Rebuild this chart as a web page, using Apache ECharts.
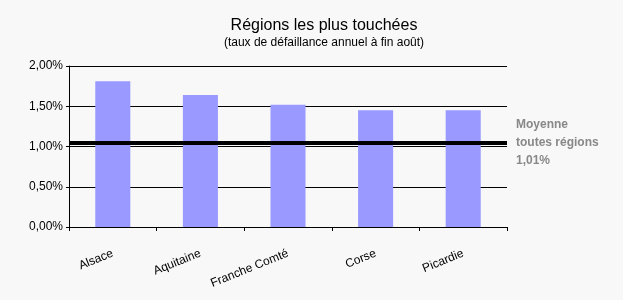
<!DOCTYPE html>
<html>
<head>
<meta charset="utf-8">
<script src="https://cdn.jsdelivr.net/npm/echarts@6/dist/echarts.min.js"></script>
<style>
html,body{margin:0;padding:0;background:#f8f8f8;}
#c{width:623px;height:300px;}
</style>
</head>
<body>
<div id="c"></div>
<script>
const categories = ['Alsace', 'Aquitaine', 'Franche Comté', 'Corse', 'Picardie'];
const rates = [1.81, 1.64, 1.52, 1.45, 1.45];
const meanLineValue = 1.05;
const meanLabelLines = ['Moyenne', 'toutes régions', '1,01%'];
const yTicks = [0, 0.5, 1, 1.5, 2];
const titleText = 'Régions les plus touchées';
const subtitleText = '(taux de défaillance annuel à fin août)';

const fmt = v => v.toFixed(2).replace('.', ',') + '%';
const chart = echarts.init(document.getElementById('c'), null, {renderer: 'canvas'});
chart.setOption({
  backgroundColor: '#f8f8f8',
  animation: false,
  title: {
    text: titleText,
    subtext: subtitleText,
    left: 319,
    textAlign: 'center',
    top: 13,
    itemGap: 3,
    textStyle: {fontFamily: 'Liberation Sans', fontSize: 16, fontWeight: 'normal', color: '#000'},
    subtextStyle: {fontFamily: 'Liberation Sans', fontSize: 12, color: '#000'}
  },
  grid: {left: 69, right: 116, top: 66, bottom: 73, containLabel: false},
  xAxis: {
    type: 'category',
    data: categories,
    axisLine: {lineStyle: {color: '#000', width: 1}},
    axisTick: {show: true, length: 4, inside: false, lineStyle: {color: '#000'}},
    axisLabel: {rotate: 22, margin: 26, color: '#000', fontFamily: 'Liberation Sans', fontSize: 12, interval: 0}
  },
  yAxis: {
    type: 'value',
    min: yTicks[0],
    max: yTicks[yTicks.length - 1],
    interval: 0.5,
    axisLine: {show: true, lineStyle: {color: '#000', width: 1}},
    axisTick: {show: true, length: 3, lineStyle: {color: '#000'}},
    splitLine: {show: true, lineStyle: {color: '#000', width: 1}},
    axisLabel: {formatter: fmt, margin: 6, color: '#000', fontFamily: 'Liberation Sans', fontSize: 12}
  },
  series: [{
    type: 'bar',
    data: rates,
    barWidth: '40%',
    itemStyle: {color: '#9999ff'},
    markLine: {
      symbol: 'none',
      silent: true,
      data: [{yAxis: meanLineValue}],
      lineStyle: {color: '#000', width: 4, type: 'solid'},
      label: {
        show: true,
        position: 'end',
        distance: 9,
        formatter: meanLabelLines.join('\n'),
        color: '#888',
        fontWeight: 'bold',
        fontFamily: 'Liberation Sans',
        fontSize: 12,
        lineHeight: 18,
        align: 'left'
      }
    }
  }]
});
</script>
</body>
</html>
